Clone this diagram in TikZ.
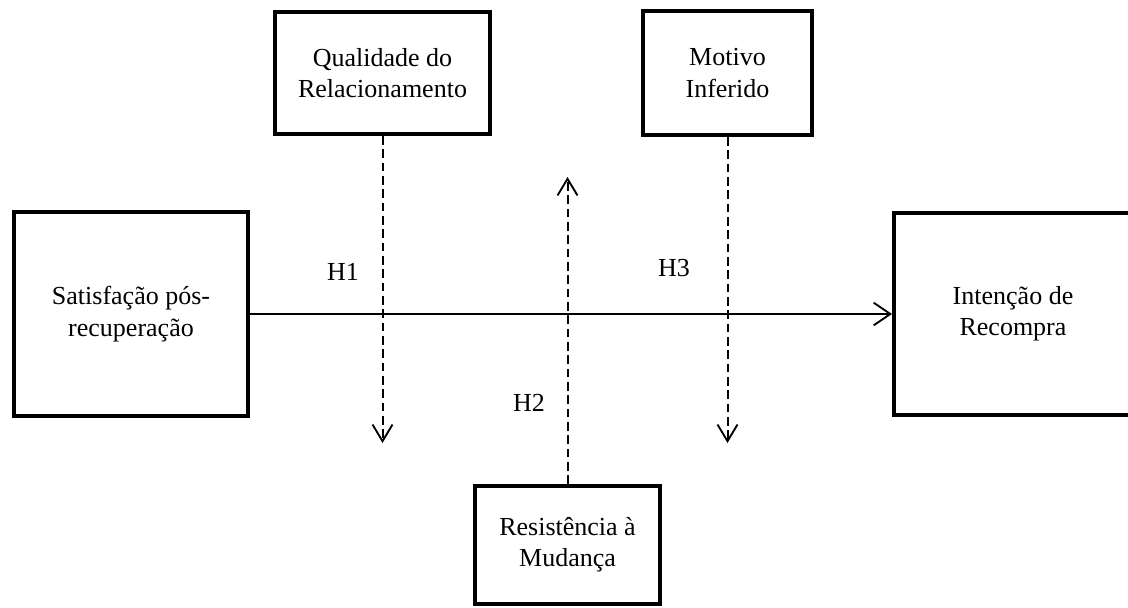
\documentclass[tikz,border=0pt]{standalone}
\usepackage{fontspec}
\setmainfont{Liberation Serif}
\usetikzlibrary{arrows.meta}

\tikzset{
  construct/.style={draw=black, line width=3pt, fill=white, inner sep=0pt,
    align=center, font=\fontsize{19.5}{23.5}\selectfont},
  link/.style={line width=1.4pt, -{Straight Barb[length=12.5pt, width=17pt, line width=1.4pt]}},
  moderation/.style={line width=1.5pt, dash pattern=on 6.5pt off 3.5pt,
    -{Straight Barb[length=12.5pt, width=15pt, line width=1.4pt]}},
  hyp/.style={font=\fontsize{19.5}{23.5}\selectfont, inner sep=0pt}
}

\begin{document}
\begin{tikzpicture}[x=0.75pt, y=-0.75pt]
  \useasboundingbox (0,0) rectangle (1128,607);
  \clip (0,0) rectangle (1128,607);

  % constructs (sizes in pt)
  \node[construct, minimum width=175.5pt, minimum height=153pt] (sat) at (131,314)
    {Satisfação pós-\\recuperação};
  \node[construct, minimum width=178.5pt, minimum height=151.5pt] (int) at (1013,314)
    {Intenção de\\Recompra};
  \node[construct, minimum width=161.25pt, minimum height=91.5pt] (qual) at (382.5,73)
    {Qualidade do\\Relacionamento};
  \node[construct, minimum width=126.75pt, minimum height=93pt] (mot) at (727.5,73)
    {Motivo\\Inferido};
  \node[construct, minimum width=138.75pt, minimum height=88.5pt] (res) at (567.5,545)
    {Resistência à\\Mudança};

  % free ends of the moderating arrows
  \coordinate (h1end) at (382.5,443);
  \coordinate (h2end) at (567.5,177);
  \coordinate (h3end) at (727.5,443);

  % main effect
  \draw[link] (sat.east) -- (int.west);

  % moderating effects
  \draw[moderation] (qual.south) -- (h1end);
  \draw[moderation] (res.north) -- (h2end);
  \draw[moderation] (mot.south) -- (h3end);

  % hypothesis labels
  \node[hyp] (lh1) at (343,272) {H1};
  \node[hyp] (lh2) at (529,403) {H2};
  \node[hyp] (lh3) at (674,268) {H3};
\end{tikzpicture}
\end{document}
